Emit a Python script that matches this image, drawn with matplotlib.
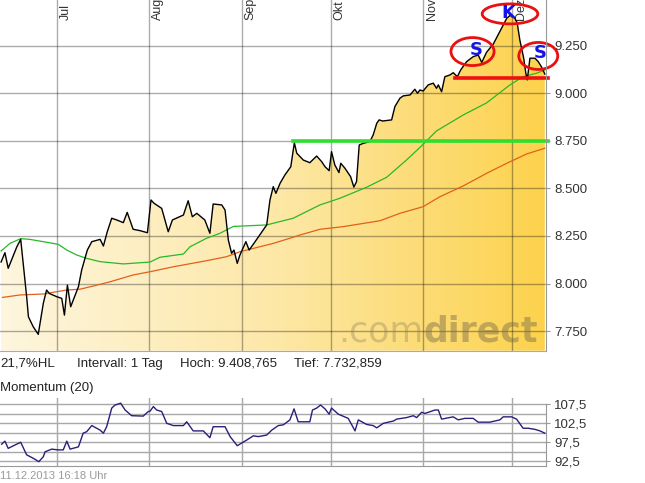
import numpy as np
import matplotlib.pyplot as plt
from matplotlib.colors import LinearSegmentedColormap
from matplotlib.patches import Polygon, Ellipse

plt.rcParams['font.family'] = ['Liberation Sans', 'DejaVu Sans']

# x axis = days since 1 July 2013 (calendar days)
month_starts = [0, 31, 62, 92, 123, 153]
month_labels = ['Jul', 'Aug', 'Sep', 'Okt', 'Nov', 'Dez']

price_days = [-18.9, -17.6, -16.5, -13.6, -12.3, -10.3, -9.7, -8.1, -6.4, -4.7,
              -3.6, -2.7, -0.2, 1.5, 2.4, 3.4, 4.5, 7.1, 8.2, 10.1,
              11.6, 14.4, 15.5, 16.8, 18.3, 20.0, 22.2, 23.5, 25.5, 27.8,
              30.3, 31.5, 32.5, 35.1, 37.3, 38.7, 42.4, 44.0, 45.4, 46.9,
              49.6, 51.3, 52.4, 55.3, 56.4, 57.5, 58.6, 59.4, 60.5, 61.4,
              63.4, 64.5, 66.5, 70.4, 71.5, 72.6, 73.5, 74.9, 76.5, 78.5,
              79.7, 80.5, 82.7, 84.9, 87.2, 88.9, 90.0, 91.4, 92.2, 93.3,
              94.7, 95.3, 96.7, 98.6, 99.7, 100.6, 101.5, 102.9, 105.1, 106.2,
              107.4, 108.2, 109.4, 112.4, 113.5, 115.2, 116.3, 118.6, 120.2, 121.1,
              121.9, 123.0, 124.7, 126.4, 127.5, 128.1, 129.2, 130.3, 132.0, 133.1,
              134.5, 135.6, 137.6, 139.8, 141.5, 142.7, 144.3, 146.6, 149.4, 151.1,
              152.2, 153.8, 154.6, 155.5, 156.8, 157.5, 158.0, 158.9, 160.6, 161.7,
              162.8, 163.9]
price_vals = [8113, 8162, 8080, 8193, 8232, 7931, 7825, 7773, 7733, 7896,
              7966, 7948, 7931, 7922, 7834, 7992, 7878, 7983, 8071, 8176,
              8220, 8232, 8197, 8272, 8343, 8334, 8320, 8374, 8285, 8278,
              8267, 8439, 8422, 8395, 8272, 8334, 8360, 8435, 8351, 8369,
              8334, 8264, 8418, 8413, 8386, 8229, 8159, 8176, 8106, 8150,
              8220, 8176, 8220, 8308, 8439, 8509, 8474, 8527, 8570, 8614,
              8740, 8685, 8649, 8635, 8670, 8640, 8614, 8593, 8693, 8623,
              8583, 8632, 8606, 8562, 8507, 8535, 8728, 8737, 8746, 8781,
              8842, 8860, 8854, 8860, 8930, 8974, 8986, 8991, 9021, 9000,
              9017, 9012, 9044, 9053, 9026, 9044, 9008, 9087, 9096, 9108,
              9087, 9122, 9166, 9192, 9201, 9162, 9215, 9259, 9343, 9394,
              9409, 9394, 9371, 9280, 9184, 9107, 9070, 9184, 9184, 9166,
              9138, 9101]

# moving averages (green = short, orange = long)
ma_short_days = [-18.9, -15.9, -12.3, -9.2, -4.7, 0.3, 3.2, 6.5, 9.9, 14.4, 22.2,
                 31.2, 34.5, 42.4, 44.6, 50.2, 54.7, 59.2, 70.4, 79.3, 88.3, 95.0,
                 104.0, 110.7, 117.4, 121.9, 127.5, 136.5, 144.3, 152.2, 156.6,
                 161.1, 163.9]
ma_short_vals = [8171, 8211, 8236, 8232, 8220, 8206, 8176, 8150, 8132, 8115, 8103,
                 8113, 8138, 8155, 8193, 8238, 8264, 8300, 8308, 8343, 8413, 8448,
                 8506, 8558, 8649, 8715, 8802, 8886, 8949, 9044, 9087, 9105, 9122]
ma_long_days = [-18.4, -12.5, -4.7, 3.2, 7.6, 12.1, 17.7, 25.5, 31.2, 39.0, 50.2,
                56.9, 61.4, 72.6, 78.2, 81.6, 88.3, 96.1, 101.7, 108.5, 115.2,
                123.0, 128.6, 136.5, 144.3, 151.1, 157.8, 163.9]
ma_long_vals = [7927, 7940, 7945, 7966, 7970, 7987, 8009, 8045, 8062, 8088, 8120,
                8141, 8167, 8211, 8238, 8255, 8285, 8299, 8313, 8330, 8369, 8404,
                8456, 8513, 8579, 8632, 8681, 8711]

mom_days = [-18.7, -17.6, -16.5, -14.2, -12.3, -10.3, -8.1, -6.2, -4.7, -4.1,
            -1.9, 0.3, 2.0, 3.2, 4.3, 7.1, 8.7, 9.9, 11.6, 14.4,
            15.5, 16.6, 18.3, 19.4, 21.3, 22.8, 25.0, 28.9, 30.6, 31.2,
            32.3, 33.4, 35.1, 36.8, 39.0, 42.4, 43.5, 45.7, 49.1, 51.3,
            52.4, 56.4, 58.1, 60.5, 63.7, 65.9, 67.6, 70.4, 72.1, 74.3,
            76.0, 78.2, 79.6, 81.0, 84.9, 85.8, 87.2, 88.5, 90.0, 91.4,
            92.2, 94.5, 97.8, 99.0, 100.1, 101.2, 104.0, 106.2, 107.4, 109.6,
            113.0, 114.1, 117.4, 119.7, 120.8, 122.5, 123.6, 127.0, 128.1, 129.2,
            133.1, 134.8, 137.0, 139.8, 141.5, 145.4, 148.8, 149.9, 152.7, 154.4,
            156.6, 158.3, 160.6, 162.3, 163.9]
mom_vals = [97.0, 97.8, 95.9, 96.8, 97.5, 94.2, 93.3, 92.4, 93.7, 95.0,
            95.7, 95.5, 95.5, 97.8, 95.7, 96.3, 99.9, 100.3, 101.9, 100.7,
            99.9, 101.6, 106.5, 107.3, 107.8, 106.0, 104.5, 104.4, 105.6, 105.7,
            106.9, 106.0, 105.6, 102.5, 101.9, 101.9, 102.9, 100.5, 100.5, 98.7,
            101.6, 101.6, 99.0, 96.6, 98.1, 99.2, 99.0, 99.4, 100.7, 101.9,
            102.1, 103.4, 106.3, 102.9, 102.9, 106.0, 106.5, 107.3, 106.3, 104.9,
            106.5, 104.9, 103.8, 102.1, 100.5, 103.4, 102.2, 101.9, 101.3, 102.5,
            103.1, 103.6, 104.0, 104.5, 104.0, 105.4, 105.1, 106.0, 106.0, 103.6,
            104.2, 103.4, 103.8, 103.8, 102.8, 102.8, 103.4, 104.2, 104.2, 103.6,
            101.2, 101.2, 100.9, 100.5, 99.9]

price_ticks = [7750, 8000, 8250, 8500, 8750, 9000, 9250]
mom_ticks = [92.5, 97.5, 102.5, 107.5]

W, H = 645, 483
def fx(x):
    return x / W
def fy(y):
    return 1 - y / H

fig = plt.figure(figsize=(W / 100, H / 100), dpi=100)
XMIN, XMAX = -19.26, 164.3
YMIN, YMAX = 7647, 9490

# ---- main price panel
ax = fig.add_axes([0, fy(350.7), fx(546), 350.7 / H])
ax.set_xlim(XMIN, XMAX)
ax.set_ylim(YMIN, YMAX)

# golden gradient under the price line
cmap = LinearSegmentedColormap.from_list('gold', ['#fef6de', '#fde8a8', '#fcd24c'])
grad = np.linspace(0, 1, 256).reshape(1, -1)
im = ax.imshow(grad, cmap=cmap, aspect='auto', extent=[XMIN, XMAX, YMIN, YMAX],
               origin='lower', zorder=1)
verts = [(price_days[0], YMIN)] + list(zip(price_days, price_vals)) + [(price_days[-1], YMIN)]
clip = Polygon(verts, closed=True, facecolor='none', edgecolor='none')
ax.add_patch(clip)
im.set_clip_path(clip)

for m in month_starts:
    ax.axvline(m, color='black', alpha=0.33, lw=1, zorder=2)
for t in price_ticks:
    ax.axhline(t, color='black', alpha=0.33, lw=1, zorder=2)

# watermark (x in days, baseline in price units)
ax.text(123.2, 7694, '.com', ha='right', va='baseline', fontsize=25, color='#8c7c5a',
        alpha=0.35, family='DejaVu Sans', zorder=3)
ax.text(123.2, 7694, 'direct', ha='left', va='baseline', fontsize=25, fontweight='bold',
        color='#7a6a48', alpha=0.45, family='DejaVu Sans', zorder=3)

ax.plot(ma_long_days, ma_long_vals, color='#e2601a', lw=0.9, zorder=4)
ax.plot(ma_short_days, ma_short_vals, color='#28b828', lw=0.9, zorder=4)
ax.plot(price_days, price_vals, color='black', lw=1.0, zorder=5)

# support lines
ax.plot([79.3, 164.9], [8750, 8750], color='#2ee02e', lw=2.6, zorder=6, clip_on=False)
ax.plot([133.7, 164.9], [9082, 9082], color='#ee1111', lw=2.6, zorder=6, clip_on=False)

# head and shoulders markers
marks = [(139.6, 9219, 14.5, 147, 'S', 141.0, 9228),
         (152.2, 9417, 18.7, 105, 'K', 151.6, 9424),
         (161.7, 9196, 13.1, 142, 'S', 162.2, 9213)]
for cx, cy, w, h, lab, tx, ty in marks:
    ax.add_patch(Ellipse((cx, cy), w, h, fill=False, edgecolor='#e81010', lw=2.0,
                         zorder=7, clip_on=False))
    ax.text(tx, ty, lab, ha='center', va='center', fontsize=13, fontweight='bold',
            color='#1414e6', family='DejaVu Sans', zorder=8, clip_on=False)

for m, lab in zip(month_starts, month_labels):
    ax.text(m + 0.8, 1 - 20 / 350.7, lab, transform=ax.get_xaxis_transform(),
            rotation=90, ha='left', va='bottom', fontsize=9, color='#333333')

ax.set_xticks([])
ax.yaxis.tick_right()
ax.set_yticks(price_ticks)
ax.set_yticklabels(['{:,}'.format(t).replace(',', '.') for t in price_ticks])
ax.tick_params(axis='y', length=3, width=0.8, color='#999999', labelsize=9.5,
               labelcolor='#333333', pad=3)
for s in ['top', 'left']:
    ax.spines[s].set_visible(False)
ax.spines['right'].set_color('#999999')
ax.spines['bottom'].set_color('#aaaaaa')
ax.spines['right'].set_zorder(9)

# ---- info line
fig.text(fx(0), fy(364), '21,7%HL', fontsize=9.5, va='center', color='#222222')
fig.text(fx(77), fy(364), 'Intervall: 1 Tag', fontsize=9.5, va='center', color='#222222')
fig.text(fx(180), fy(364), 'Hoch: 9.408,765', fontsize=9.5, va='center', color='#222222')
fig.text(fx(294), fy(364), 'Tief: 7.732,859', fontsize=9.5, va='center', color='#222222')
fig.text(fx(0), fy(388), 'Momentum (20)', fontsize=9.5, va='center', color='#222222')
fig.text(fx(0), fy(476), '11.12.2013 16:18 Uhr', fontsize=8, va='center', color='#9a9a9a')

# ---- momentum panel
ax2 = fig.add_axes([0, fy(465.7), fx(546), (465.7 - 398) / H])
ax2.set_xlim(XMIN, XMAX)
ax2.set_ylim(91.34, 109.16)
for m in month_starts:
    ax2.axvline(m, color='#a8a8a8', lw=1, zorder=1)
for t in np.arange(92.5, 108, 2.5):
    ax2.axhline(t, color='#a8a8a8', lw=1, zorder=1)
ax2.plot(mom_days, mom_vals, color='#2a1f78', lw=1.0, zorder=3)
ax2.set_xticks([])
ax2.yaxis.tick_right()
ax2.set_yticks(mom_ticks)
ax2.set_yticklabels([str(t).replace('.', ',') for t in mom_ticks])
ax2.tick_params(axis='y', length=3, width=0.8, color='#999999', labelsize=9.5,
                labelcolor='#333333', pad=3)
for s in ['top', 'left']:
    ax2.spines[s].set_visible(False)
ax2.spines['right'].set_color('#999999')
ax2.spines['bottom'].set_color('#999999')
ax2.spines['right'].set_bounds(91.34, 107.5)

fig.savefig('out.png', dpi=100)
